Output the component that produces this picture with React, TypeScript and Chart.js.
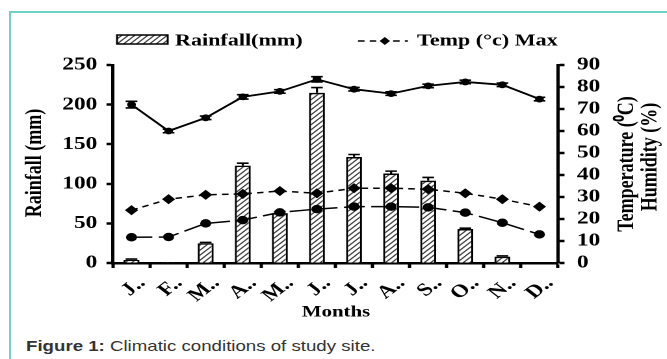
import React, { useEffect, useRef } from 'react';
import { Chart, registerables } from 'chart.js';

Chart.register(...registerables);

// ---------- data ----------
const monthLabels = ['J..', 'F..', 'M..', 'A..', 'M..', 'J..', 'J..', 'A..', 'S..', 'O..', 'N..', 'D..'];
const rainfall = [4, 1, 25, 123, 63, 215, 134, 113, 104, 43, 8, 0];
const rainfallErr = [1, 0, 1, 3, 2, 6.5, 3, 3, 4, 1, 1, 0];
const humidity = [72, 60, 66, 75.5, 78, 83.5, 79, 77, 80.5, 82.3, 81, 74.5];
const humidityErr = [1.5, 0.8, 0.8, 1, 0.8, 1.2, 0.8, 0.8, 0.8, 0.8, 0.8, 0.8];
const tempMax = [24, 29, 31, 31.4, 32.7, 31.7, 34, 34, 33.5, 31.7, 29, 25.6];
const tempMin = [11.7, 11.8, 18, 19.5, 23, 24.5, 25.6, 25.6, 25.3, 22.9, 18.3, 13];
const leftTicksMax = 250;
const rightTicksMax = 90;

// ---------- layout ----------
const S = 1.3; // horizontal stretch of the original figure
const PAGE_W = 667;
const CW = PAGE_W / S;
const CH = 311;
const SERIF = '"Liberation Serif", "Times New Roman", Times, serif';

function makeHatch(ctx: CanvasRenderingContext2D): CanvasPattern | string {
  const c = document.createElement('canvas');
  c.width = 10;
  c.height = 10;
  const g = c.getContext('2d');
  if (!g) return '#ccc';
  g.fillStyle = '#ffffff';
  g.fillRect(0, 0, 10, 10);
  g.strokeStyle = '#3a3a3a';
  g.lineWidth = 2.2;
  g.beginPath();
  g.moveTo(-2, 12); g.lineTo(12, -2);
  g.moveTo(-7, 7); g.lineTo(7, -7);
  g.moveTo(3, 17); g.lineTo(17, 3);
  g.stroke();
  const p = ctx.createPattern(c, 'repeat');
  if (!p) return '#ccc';
  try { p.setTransform(new DOMMatrix().scale(0.5)); } catch (e) { /* ignore */ }
  return p;
}

const errorsByIndex: Record<number, { errs: number[]; both: boolean }> = {
  0: { errs: rainfallErr, both: false },
  1: { errs: humidityErr, both: true },
};

const errorBarPlugin = {
  id: 'errorBars',
  afterDatasetsDraw(chart: any) {
    const ctx = chart.ctx as CanvasRenderingContext2D;
    Object.keys(errorsByIndex).forEach((k) => {
      const i = Number(k);
      const info = errorsByIndex[i];
      const ds = chart.data.datasets[i];
      const meta = chart.getDatasetMeta(i);
      const ys = chart.scales[meta.yAxisID];
      ctx.save();
      ctx.strokeStyle = '#000';
      ctx.lineWidth = 1.6;
      meta.data.forEach((el: any, j: number) => {
        const e = info.errs[j];
        if (!e) return;
        const v = ds.data[j] as number;
        const x = el.x;
        const yTop = ys.getPixelForValue(v + e);
        const yBot = info.both ? ys.getPixelForValue(v - e) : ys.getPixelForValue(v);
        const cw = 4.5;
        ctx.beginPath();
        ctx.moveTo(x, yTop); ctx.lineTo(x, yBot);
        ctx.moveTo(x - cw, yTop); ctx.lineTo(x + cw, yTop);
        if (info.both) { ctx.moveTo(x - cw, yBot); ctx.lineTo(x + cw, yBot); }
        ctx.stroke();
      });
      ctx.restore();
    });
  },
};

const decorPlugin = {
  id: 'decor',
  afterDraw(chart: any) {
    const ctx = chart.ctx as CanvasRenderingContext2D;
    const hatch = (chart as any)._hatch;
    ctx.save();
    // legend: rainfall
    ctx.fillStyle = hatch;
    ctx.fillRect(90, 21, 39, 9);
    ctx.strokeStyle = '#000';
    ctx.lineWidth = 1.5;
    ctx.strokeRect(90, 21, 39, 9);
    ctx.fillStyle = '#000';
    ctx.font = `bold 17px ${SERIF}`;
    ctx.textAlign = 'left';
    ctx.textBaseline = 'middle';
    ctx.fillText('Rainfall(mm)', 134.6, 27);
    // legend: temp max
    ctx.setLineDash([5, 4]);
    ctx.lineWidth = 1.5;
    ctx.beginPath();
    ctx.moveTo(275.4, 27); ctx.lineTo(313.8, 27);
    ctx.stroke();
    ctx.setLineDash([]);
    ctx.beginPath();
    ctx.moveTo(296, 23); ctx.lineTo(300, 27); ctx.lineTo(296, 31); ctx.lineTo(292, 27); ctx.closePath();
    ctx.fill();
    ctx.fillText('Temp (\u00B0c) Max', 320.8, 27);
    // x title
    ctx.font = `bold 16px ${SERIF}`;
    ctx.textAlign = 'center';
    ctx.fillText('Months', 258.5, 298.5);
    // y titles
    ctx.font = `bold 18px ${SERIF}`;
    const rot = (text: string, x: number, y: number) => {
      ctx.save();
      ctx.translate(x, y);
      ctx.rotate(-Math.PI / 2);
      ctx.fillText(text, 0, 0);
      ctx.restore();
    };
    rot('Rainfall (mm)', 26.9, 149);
    rot('Temperature (\u2070C)', 482.3, 150);
    rot('Humidity (%)', 500.4, 143);
    ctx.restore();
  },
};

export default function App() {
  const ref = useRef<HTMLCanvasElement | null>(null);

  useEffect(() => {
    const canvas = ref.current;
    if (!canvas) return;
    const ctx = canvas.getContext('2d') as CanvasRenderingContext2D;
    const hatch = makeHatch(ctx);
    const tickFont = { family: SERIF, weight: 'bold' as const, size: 18, lineHeight: 1 };
    const chart = new Chart(canvas, {
      type: 'bar',
      data: {
        labels: monthLabels,
        datasets: [
          {
            type: 'bar',
            label: 'Rainfall(mm)',
            data: rainfall,
            backgroundColor: hatch as any,
            borderColor: '#000',
            borderWidth: 1.6,
            barPercentage: 0.43,
            categoryPercentage: 1,
            yAxisID: 'y',
            order: 10,
          },
          {
            type: 'line',
            label: 'Humidity (%)',
            data: humidity,
            borderColor: '#000',
            backgroundColor: '#000',
            borderWidth: 1.8,
            pointRadius: 2.5,
            pointStyle: 'circle',
            yAxisID: 'y1',
            order: 1,
          },
          {
            type: 'line',
            label: 'Temp (\u00B0c) Max',
            data: tempMax,
            borderColor: '#000',
            backgroundColor: '#000',
            borderWidth: 1.5,
            borderDash: [5, 4],
            pointRadius: 4,
            pointStyle: 'rectRot',
            yAxisID: 'y1',
            order: 2,
          },
          {
            type: 'line',
            label: 'Temp (\u00B0c) Min',
            data: tempMin,
            borderColor: '#000',
            backgroundColor: '#000',
            borderWidth: 1.5,
            borderDash: [16, 5],
            pointRadius: 3.5,
            pointStyle: 'circle',
            yAxisID: 'y1',
            order: 3,
          },
        ],
      },
      options: {
        animation: false,
        responsive: true,
        maintainAspectRatio: false,
        devicePixelRatio: 2,
        layout: { padding: { top: 51, left: 0, right: 0, bottom: 0 } },
        plugins: { legend: { display: false }, tooltip: { enabled: false } },
        scales: {
          x: {
            offset: true,
            grid: { offset: true, drawOnChartArea: false, drawTicks: true, tickLength: 5, tickWidth: 2.5, tickColor: '#000' },
            border: { display: true, color: '#000', width: 2.5 },
            ticks: {
              color: '#000',
              font: tickFont,
              minRotation: 45,
              maxRotation: 45,
              autoSkip: false,
              padding: 6,
              labelOffset: 8,
            },
            afterFit: (s: any) => { s.height = CH - 249; },
          },
          y: {
            position: 'left',
            min: 0,
            max: leftTicksMax,
            grid: { drawOnChartArea: false, drawTicks: true, tickLength: 5, tickWidth: 2.5, tickColor: '#000' },
            border: { display: true, color: '#000', width: 2.5 },
            ticks: { stepSize: 50, color: '#000', font: tickFont, padding: 7, autoSkip: false },
            afterFit: (s: any) => { s.width = 86.9; },
          },
          y1: {
            position: 'right',
            min: 0,
            max: rightTicksMax,
            grid: { drawOnChartArea: false, drawTicks: true, tickLength: 5, tickWidth: 2.5, tickColor: '#000' },
            border: { display: true, color: '#000', width: 2.5 },
            ticks: { stepSize: 10, color: '#000', font: tickFont, padding: 9.5, autoSkip: false, maxTicksLimit: 20 },
            afterFit: (s: any) => { s.width = CW - 429.2; },
          },
        },
      },
      plugins: [errorBarPlugin, decorPlugin],
    } as any);
    (chart as any)._hatch = hatch;
    chart.draw();
    return () => chart.destroy();
  }, []);

  return (
    <div style={{ position: 'absolute', left: 0, top: 0, width: PAGE_W, height: 359, overflow: 'hidden', background: '#fff' }}>
      <div
        style={{
          position: 'absolute',
          left: 9,
          top: 11,
          width: PAGE_W - 9,
          height: 359 - 11,
          borderTop: '2px solid #6fd3c4',
          borderLeft: '2px solid #6fd3c4',
          boxSizing: 'border-box',
        }}
      />
      <div
        style={{
          position: 'absolute',
          left: 0,
          top: 14,
          width: CW,
          height: CH,
          transform: `scaleX(${S})`,
          transformOrigin: '0 0',
        }}
      >
        <canvas ref={ref} />
      </div>
      <div
        style={{
          position: 'absolute',
          left: 26,
          top: 338,
          fontFamily: '"Liberation Sans", Arial, Helvetica, sans-serif',
          fontSize: 15,
          lineHeight: '15px',
          color: '#333',
          whiteSpace: 'nowrap',
          transform: 'scaleX(1.244)',
          transformOrigin: '0 0',
        }}
      >
        <b>Figure 1:</b> Climatic conditions of study site.
      </div>
    </div>
  );
}
